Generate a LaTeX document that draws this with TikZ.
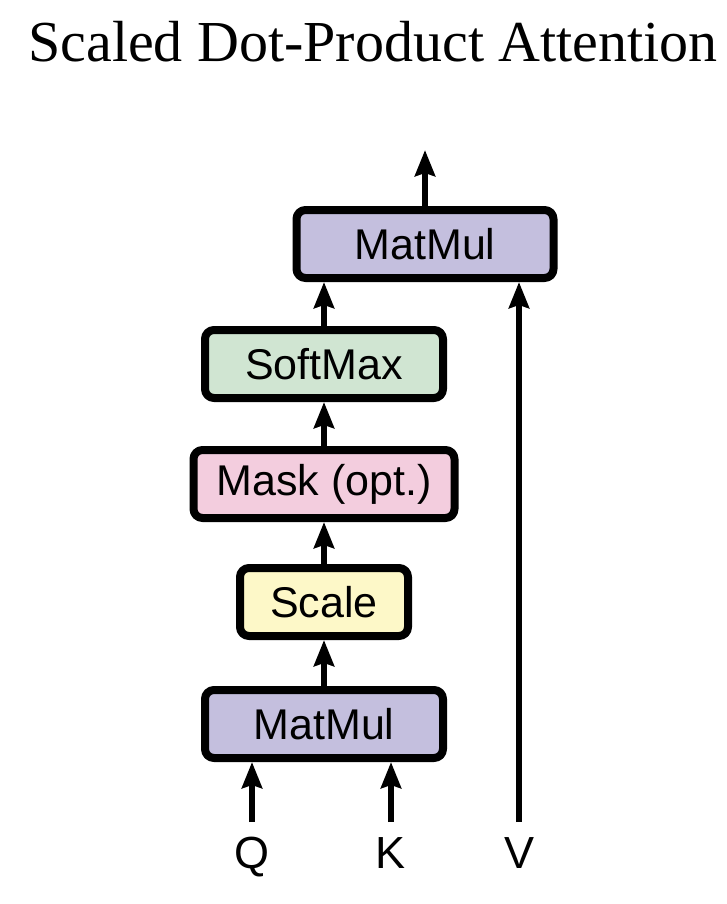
\documentclass[tikz,border=0pt]{standalone}
\usepackage{fontspec}
\setmainfont{Liberation Serif}
\setsansfont{Liberation Sans}
\usepackage{tikz}
\usetikzlibrary{arrows.meta}
\definecolor{matmulfill}{RGB}{196,191,222}
\definecolor{softmaxfill}{RGB}{208,229,210}
\definecolor{maskfill}{RGB}{243,205,222}
\definecolor{scalefill}{RGB}{253,248,200}
\tikzset{
  every picture/.style={line join=round, >={Stealth[length=26pt,width=20pt,inset=3pt]}},
  op/.style={draw, line width=8pt, rounded corners=9pt, minimum height=68pt, inner sep=0pt,
    font=\fontsize{43}{46}\selectfont\sffamily},
  flow/.style={->, line width=6.5pt},
  lbl/.style={font=\fontsize{45}{48}\selectfont\sffamily, anchor=base},
}

\begin{document}
\begin{tikzpicture}[x=1pt,y=-1pt]
\useasboundingbox (0,0) rectangle (726,904);
\node[font=\fontsize{58}{60}\selectfont, anchor=base] (title) at (373,62) {Scaled Dot-Product Attention};
% operation blocks, bottom to top
\node[op, fill=matmulfill, minimum width=238pt] (mm1) at (324,724) {MatMul};
\node[op, fill=scalefill, minimum width=168pt] (scl) at (324,602) {Scale};
\node[op, fill=maskfill, minimum width=261pt] (mask) at (324,484) {Mask (opt.)};
\node[op, fill=softmaxfill, minimum width=238pt] (sm) at (324,364) {SoftMax};
\node[op, fill=matmulfill, minimum width=257pt] (mm2) at (425,244) {MatMul};
% inputs
\node[lbl] (q) at (252,868) {Q};
\node[lbl] (k) at (391,868) {K};
\node[lbl] (v) at (519,868) {V};
\coordinate (q0) at (252,822);
\coordinate (k0) at (391,822);
\coordinate (v0) at (519,822);
\coordinate (out) at (425,150);
% connections
\draw[flow] (q0) -- (q0 |- mm1.south);
\draw[flow] (k0) -- (k0 |- mm1.south);
\draw[flow] (v0) -- (v0 |- mm2.south);
\draw[flow] (mm1.north) -- (scl.south);
\draw[flow] (scl.north) -- (mask.south);
\draw[flow] (mask.north) -- (sm.south);
\draw[flow] (sm.north) -- (sm.north |- mm2.south);
\draw[flow] (mm2.north) -- (out);
\end{tikzpicture}
\end{document}
